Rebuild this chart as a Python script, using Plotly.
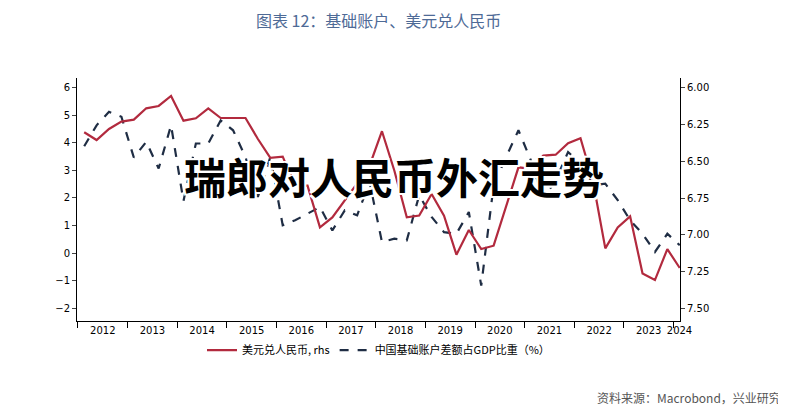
import plotly.graph_objects as go

years = list(range(2012, 2025))
quarters = [y + (q - 0.5) / 4 for y in range(2012, 2025) for q in range(1, 5)][:49]

usdcny = [6.302,6.355,6.280,6.230,6.216,6.139,6.123,6.055,6.223,6.207,6.139,6.205,6.205,6.205,6.348,6.477,
          6.468,6.666,6.666,6.950,6.882,6.768,6.650,6.530,6.295,6.564,6.882,6.870,6.723,6.870,7.136,6.968,
          7.098,7.075,6.814,6.541,6.552,6.461,6.455,6.377,6.343,6.632,7.093,6.950,6.875,7.264,7.309,7.098,7.227]
basic_acct = [3.88,4.64,5.13,4.95,3.47,4.04,3.07,4.64,1.89,3.98,3.98,4.82,4.46,3.49,2.04,3.49,
              1.01,1.19,1.43,1.67,0.82,1.55,1.37,2.58,0.40,0.52,0.46,2.10,1.31,0.76,0.70,1.49,
              -1.18,2.46,3.49,4.46,3.37,1.98,2.64,3.67,3.25,2.46,2.52,1.92,1.19,0.70,0.04,0.70,0.28]

font = "Noto Sans CJK SC"
fig = go.Figure()
fig.add_trace(go.Scatter(x=quarters, y=usdcny, yaxis="y2", mode="lines",
                         line=dict(color="#b22a3e", width=2.2), name="美元兑人民币, rhs"))
fig.add_trace(go.Scatter(x=quarters, y=basic_acct, mode="lines",
                         line=dict(color="#1f2d44", width=2.2, dash="dash"),
                         name="中国基础账户差额占GDP比重（%）"))

axis_common = dict(showgrid=False, zeroline=False, showline=True, linecolor="black", automargin=False,
                   ticks="outside", ticklen=4, tickfont=dict(size=10, color="black", family="DejaVu Sans"))
label_pos = [y + 0.5 for y in years[:-1]] + [years[-1] + 0.12]
fig.update_layout(
    width=786, height=420, plot_bgcolor="white", paper_bgcolor="white",
    margin=dict(l=69, r=114, t=70, b=107),
    font=dict(family=font),
    xaxis=dict(range=[2011.98, 2024.13], tickvals=label_pos, ticktext=[str(y) for y in years],
               ticklen=0, ticks="", showgrid=False, zeroline=False, showline=True, linecolor="black",
               automargin=False, tickfont=dict(size=10, color="black", family="DejaVu Sans"),
               minor=dict(tick0=2012, dtick=1, ticks="outside", ticklen=6, tickcolor="black")),
    yaxis=dict(range=[-2.47, 6.36], tickvals=list(range(-2, 7)), **axis_common),
    yaxis2=dict(range=[7.588, 5.9325], overlaying="y", side="right",
                tickvals=[6.0, 6.25, 6.5, 6.75, 7.0, 7.25, 7.5], tickformat=".2f", **axis_common),
    legend=dict(orientation="h", x=0.5, xanchor="center", y=-0.06, yanchor="top",
                font=dict(size=11, color="black", family=font)),
    showlegend=True,
)
fig.add_annotation(text="图表 12：基础账户、美元兑人民币", xref="paper", yref="paper",
                   x=0.5, y=1.0, yshift=72, xanchor="center", showarrow=False,
                   font=dict(size=16, color="#4e6a96", family=font))
fig.add_annotation(text="资料来源：Macrobond，兴业研究", xref="paper", yref="paper",
                   x=1.17, y=-0.36, xanchor="right", showarrow=False,
                   font=dict(size=12, color="#555555", family=font))
fig.add_annotation(text="<b>瑞郎对人民币外汇走势</b>", xref="paper", yref="paper",
                   x=0.525, y=0.6, xanchor="center", showarrow=False,
                   font=dict(size=42, color="black", family=font,
                             shadow="2px 2px 0px white, -2px -2px 0px white, 2px -2px 0px white, -2px 2px 0px white"))
fig.write_html("out.html")
